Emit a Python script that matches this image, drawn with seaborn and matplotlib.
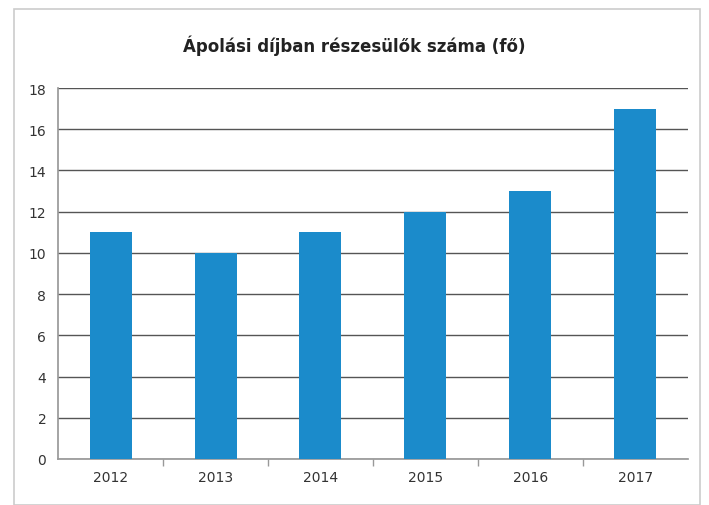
import matplotlib

matplotlib.use("Agg")

import matplotlib.pyplot as plt  # noqa: E402
import pandas as pd  # noqa: E402
import seaborn as sns  # noqa: E402
from matplotlib.patches import Rectangle  # noqa: E402

years = ["2012", "2013", "2014", "2015", "2016", "2017"]
recipients = [11, 10, 11, 12, 13, 17]
title = "Ápolási díjban részesülők száma (fő)"

sns.set_theme(style="white")
plt.rcParams["font.family"] = ["Liberation Sans Narrow", "DejaVu Sans"]

df = pd.DataFrame({"year": years, "value": recipients})

fig = plt.figure(figsize=(7.09, 5.06), dpi=100)
ax = fig.add_axes([0.082, 0.091, 0.888, 0.733])

sns.barplot(data=df, x="year", y="value", color="#1b8bcb", saturation=1,
            width=0.4, linewidth=0, ax=ax, zorder=3)

ax.set_ylim(0, 18)
ax.set_yticks(range(0, 19, 2))
ax.yaxis.grid(True, color="#555555", linewidth=1.0, zorder=0)
ax.set_axisbelow(True)
for side in ("top", "right"):
    ax.spines[side].set_visible(False)
ax.spines["left"].set_color("#999999")
ax.spines["bottom"].set_color("#999999")
ax.tick_params(axis="y", length=5, color="#999999", labelsize=10, labelcolor="#333333")
ax.tick_params(axis="x", length=0, labelsize=10, labelcolor="#333333", pad=8)
# small separators between categories on the x axis
ax.set_xticks([i + 0.5 for i in range(len(years) - 1)], minor=True)
ax.tick_params(axis="x", which="minor", length=5, color="#999999", bottom=True)
ax.set_xlabel("")
ax.set_ylabel("")

fig.text(0.5, 0.91, title, ha="center", va="center", fontsize=12,
         fontweight="bold", color="#222222")

fig.patches.append(Rectangle((0.02, 0.0), 0.968, 0.98, transform=fig.transFigure,
                             fill=False, edgecolor="#cccccc", linewidth=1.2))

fig.savefig("out.png", dpi=100)
